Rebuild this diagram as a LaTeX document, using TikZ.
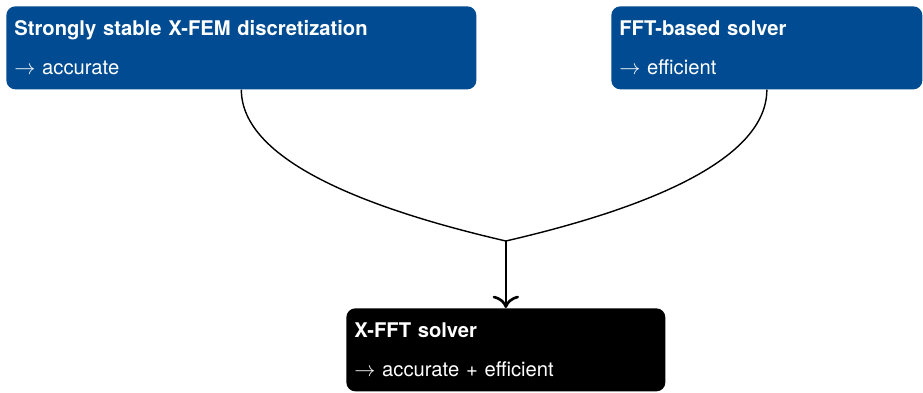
\documentclass[tikz,border=0pt]{standalone}
\usepackage{fontspec}
\setmainfont{TeX Gyre Heros}
\usetikzlibrary{arrows.meta}
\definecolor{boxblue}{RGB}{0,75,145}

\tikzset{
	infobox/.style={fill=#1, text=white, rounded corners=0.18cm, anchor=north west, inner xsep=0.16cm, inner ysep=0pt, minimum height=1.66cm, align=left, font=\fontsize{11.5}{14}\selectfont},
	branch/.style={line width=0.8pt},
}

\begin{document}
\begin{tikzpicture}
		
		\useasboundingbox (0,0) rectangle (18.46,7.84);
		
		%Input blocks
		\node[infobox=boxblue, text width=9.08cm] (xfem) at (0.12,7.72) {\textbf{Strongly stable X-FEM discretization}\\[8.5pt]$\rightarrow$ accurate};
		\node[infobox=boxblue, text width=5.9cm] (fft) at (12.22,7.72) {\textbf{FFT-based solver}\\[8.5pt]$\rightarrow$ efficient};
		
		%Result block
		\node[infobox=black, text width=6.06cm] (xfft) at (6.92,1.68) {\textbf{X-FFT solver}\\[8.5pt]$\rightarrow$ accurate + efficient};
		
		%Merging branches
		\coordinate (merge) at (xfft.north |- 0,3.02);
		\draw[branch] (xfem.south) .. controls +(0,-1.4) and +(167:2.9) .. (merge);
		\draw[branch] (fft.south) .. controls +(0,-1.4) and +(13:2.9) .. (merge);
		\draw[line width=1.5pt, -{Computer Modern Rightarrow[length=7pt,width=15pt]}] (merge) -- (xfft.north);
		
		\end{tikzpicture}
\end{document}
